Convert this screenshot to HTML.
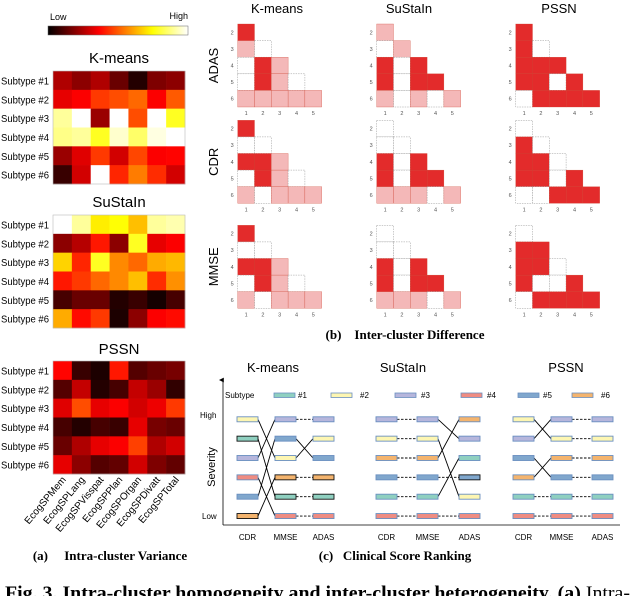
<!DOCTYPE html>
<html><head><meta charset="utf-8">
<style>
html,body{margin:0;padding:0;background:#fff;}
svg{display:block;}
text{font-family:"Liberation Sans",sans-serif;}
.serif{font-family:"Liberation Serif",serif;font-weight:bold;}
</style></head>
<body>
<svg id="fig" width="630" height="596" viewBox="0 0 630 596" xmlns="http://www.w3.org/2000/svg">
<defs>
<linearGradient id="hotgrad" x1="0" x2="1" y1="0" y2="0">
<stop offset="0" stop-color="#000"/><stop offset="0.365" stop-color="#f00"/><stop offset="0.746" stop-color="#ff0"/><stop offset="1" stop-color="#fff"/>
</linearGradient>
<marker id="arr" markerWidth="6" markerHeight="6" refX="3" refY="5" orient="auto"><path d="M0,6 L3,0 L6,6 z" fill="#000"/></marker>
</defs>
<g>
<rect x="48" y="26" width="140" height="9" fill="url(#hotgrad)" stroke="#666" stroke-width="0.5"/>
<text x="50" y="20" font-size="9">Low</text>
<text x="188" y="19" font-size="9" text-anchor="end">High</text>
</g>
<g id="pa"></g>
<g id="pb"></g>
<g id="pc"></g>
<text class="serif" x="110" y="560" font-size="13" text-anchor="middle">(a)&#160;&#160;&#160;&#160; Intra-cluster Variance</text>
<text class="serif" x="405" y="339" font-size="13" text-anchor="middle">(b)&#160;&#160;&#160; Inter-cluster Difference</text>
<text class="serif" x="395" y="560" font-size="13" text-anchor="middle">(c)&#160;&#160; Clinical Score Ranking</text>
<text class="serif" x="5" y="599" font-size="19" textLength="625" lengthAdjust="spacingAndGlyphs">Fig. 3. Intra-cluster homogeneity and inter-cluster heterogeneity. (a) <tspan font-weight="normal">Intra-</tspan></text>
</svg>
<script>
const NS="http://www.w3.org/2000/svg";
function mk(tag,attrs,parent,txt){const e=document.createElementNS(NS,tag);for(const k in attrs)e.setAttribute(k,attrs[k]);if(txt!==undefined)e.textContent=txt;parent.appendChild(e);return e;}
// ---------- Panel A data ----------
const features=["EcogSPMem","EcogSPLang","EcogSPVisspat","EcogSPPlan","EcogSPOrgan","EcogSPDivatt","EcogSPTotal"];
const subtypes=["Subtype #1","Subtype #2","Subtype #3","Subtype #4","Subtype #5","Subtype #6"];
const kmeansVar=[[0.25,0.2,0.25,0.15,0.05,0.18,0.2],[0.33,0.36,0.45,0.48,0.52,0.36,0.5],[0.9,1.0,0.22,1.0,0.48,1.0,0.78],[0.88,0.9,0.78,0.95,0.85,0.97,1.0],[0.22,0.32,0.45,0.3,0.47,0.36,0.37],[0.08,0.3,1.0,0.42,0.55,0.43,0.3]];
const sustainVar=[[1.0,0.9,0.72,0.75,0.65,0.9,0.92],[0.2,0.26,0.4,0.2,0.78,0.33,0.36],[0.68,0.42,0.78,0.57,0.52,0.62,0.64],[0.4,0.45,0.52,0.57,0.65,0.43,0.58],[0.1,0.15,0.15,0.05,0.08,0.03,0.1],[0.62,0.38,0.45,0.04,0.2,0.36,0.38]];
const pssnVar=[[0.37,0.08,0.04,0.4,0.12,0.15,0.17],[0.12,0.28,0.05,0.1,0.28,0.22,0.07],[0.32,0.48,0.33,0.36,0.3,0.34,0.45],[0.1,0.05,0.1,0.08,0.33,0.17,0.15],[0.15,0.25,0.33,0.36,0.46,0.25,0.3],[0.33,0.2,0.12,0.14,0.3,0.18,0.14]];
// ---------- Panel B data (0 none, 1 weak, 2 strong) ----------
const scoresB=["ADAS","CDR","MMSE"];
const methods=["K-means","SuStaIn","PSSN"];
const diffKmeansADAS=[[2],[1,0],[0,2,1],[0,2,1,0],[1,1,1,1,1]];
const diffKmeansCDR=[[2],[0,0],[2,2,1],[0,2,1,0],[1,0,1,1,1]];
const diffKmeansMMSE=[[2],[0,0],[2,2,1],[0,2,1,0],[1,0,1,1,1]];
const diffSustainADAS=[[1],[0,1],[2,0,2],[2,0,2,2],[1,0,1,0,1]];
const diffSustainCDR=[[0],[0,0],[2,0,2],[2,0,2,2],[1,1,1,0,1]];
const diffSustainMMSE=[[0],[0,0],[2,0,2],[2,0,2,2],[1,1,1,0,1]];
const diffPssnADAS=[[2],[2,0],[2,2,2],[2,2,0,2],[0,2,2,2,2]];
const diffPssnCDR=[[0],[2,0],[2,2,0],[2,2,0,2],[0,0,2,2,2]];
const diffPssnMMSE=[[0],[2,2],[2,2,0],[2,0,0,2],[0,2,2,2,2]];
// ---------- Panel C data (ranking high->low, subtype numbers) ----------
const scoresC=["CDR","MMSE","ADAS"];
const rankKmeansCDR=[2,1,3,4,5,6];
const rankKmeansMMSE=[3,5,2,6,1,4];
const rankKmeansADAS=[3,2,5,6,1,4];
const rankSustainCDR=[3,2,6,5,1,4];
const rankSustainMMSE=[3,2,6,5,1,4];
const rankSustainADAS=[6,3,1,5,2,4];
const rankPssnCDR=[2,3,5,6,1,4];
const rankPssnMMSE=[3,2,6,5,1,4];
const rankPssnADAS=[3,2,6,5,1,4];
const subtypeColors=["#8fd0c0","#fdf6b2","#b6b6dc","#ef8c82","#80a7cd","#f4b46e"];

function hot(v){const c=x=>Math.max(0,Math.min(1,x));const r=c(v/0.365),g=c((v-0.365)/0.381),b=c((v-0.746)/0.254);return `rgb(${Math.round(r*255)},${Math.round(g*255)},${Math.round(b*255)})`;}

// ---------- Draw Panel A ----------
const pa=document.getElementById('pa');
const heatmaps=[{name:"K-means",data:kmeansVar,top:71,ty:63},{name:"SuStaIn",data:sustainVar,top:215,ty:207},{name:"PSSN",data:pssnVar,top:361,ty:354}];
const hx0=53,hx1=185;
heatmaps.forEach((h,hi)=>{
  const g=mk('g',{},pa);
  
  
  const tt=mk('text',{x:(hx0+hx1)/2,y:h.ty,'font-size':15,'text-anchor':'middle'},g,h.name);
  
  
  const cw=(hx1-hx0)/features.length, ch=113/subtypes.length;
  h.data.forEach((row,ri)=>{
    row.forEach((v,ci)=>{
      const r=mk('rect',{x:hx0+ci*cw,y:h.top+ri*ch,width:cw+0.3,height:ch+0.3,fill:hot(v)},g);
      
      
    });
    const lb=mk('text',{x:1,y:h.top+(ri+0.5)*ch+4,'font-size':10.5,textLength:48,lengthAdjust:'spacingAndGlyphs'},g,subtypes[ri]);
    
    
  });
  mk('rect',{x:hx0,y:h.top,width:hx1-hx0,height:113,fill:'none',stroke:'#bbb','stroke-width':0.6},g);
  if(hi===2){
    features.forEach((f,ci)=>{
      const cx=hx0+(ci+0.5)*cw, cy=h.top+113+6;
      const t=mk('text',{x:cx+4,y:cy,'font-size':10,'text-anchor':'end',transform:`rotate(-50 ${cx+4} ${cy})`},g,f);
      
      
    });
  }
});

// ---------- Draw Panel B ----------
const pb=document.getElementById('pb');
const diffGrid=[[diffKmeansADAS,diffSustainADAS,diffPssnADAS],[diffKmeansCDR,diffSustainCDR,diffPssnCDR],[diffKmeansMMSE,diffSustainMMSE,diffPssnMMSE]];
const gx=[237.7,376.7,515.7], gy=[24,120.3,225.3], gcw=16.8, gch=16.6;
const titleX=[277,409,559];
methods.forEach((m,mi)=>{const t=mk('text',{x:titleX[mi],y:13,'font-size':13,'text-anchor':'middle'},pb,m);
  
  });
scoresB.forEach((s,si)=>{
  const cy=gy[si]+2.5*gch;
  const t=mk('text',{x:218,y:cy,'font-size':13,'text-anchor':'middle',transform:`rotate(-90 218 ${cy})`},pb,s);
  
  
  methods.forEach((m,mi)=>{
    const g=mk('g',{},pb);
    
    
    const x0=gx[mi],y0=gy[si];
    diffGrid[si][mi].forEach((row,ri)=>{
      row.forEach((v,ci)=>{
        const fill=v===2?'#e32b2b':v===1?'#f4b8b8':'#fff';
        const r=mk('rect',{x:x0+ci*gcw,y:y0+ri*gch,width:gcw,height:gch,fill:fill,stroke:v===0?'#999':'#c43',
          'stroke-width':v===0?0.5:0.3,'stroke-dasharray':v===0?'1.5,1':'none'},g);
        
        
      });
      mk('text',{x:x0-4,y:y0+(ri+0.5)*gch+2,'font-size':5.5,fill:'#555','text-anchor':'end'},g,String(ri+2));
    });
    for(let c=0;c<5;c++) mk('text',{x:x0+(c+0.5)*gcw,y:y0+5*gch+8,'font-size':5.5,fill:'#555','text-anchor':'middle'},g,String(c+1));
  });
});

// ---------- Draw Panel C ----------
const pc=document.getElementById('pc');
const ranks=[[rankKmeansCDR,rankKmeansMMSE,rankKmeansADAS],[rankSustainCDR,rankSustainMMSE,rankSustainADAS],[rankPssnCDR,rankPssnMMSE,rankPssnADAS]];
const barX=[[237,275,313],[376,417,459],[513,551,592]], barW=21, barH=5;
const rowY0=419.3, rowDy=19.35;
const ctitleX=[273,403,566];
methods.forEach((m,mi)=>{const t=mk('text',{x:ctitleX[mi],y:372,'font-size':13,'text-anchor':'middle'},pc,m);
  
  });
const lg=mk('g',{},pc);


mk('text',{x:225,y:398,'font-size':8},lg,'Subtype');
const legX=[274,331,395,461,518,572], legLX=[298,360,421,487,543,601];
subtypeColors.forEach((c,i)=>{
  const r=mk('rect',{x:legX[i],y:393,width:21,height:4.5,fill:c,stroke:'#6a8fc0','stroke-width':0.8},lg);
  
  
  const t=mk('text',{x:legLX[i],y:398,'font-size':8},lg,'#'+(i+1));
  
  
});
const ax=mk('g',{},pc);


mk('line',{x1:223,y1:525,x2:223,y2:380,stroke:'#000','stroke-width':0.8,'marker-end':'url(#arr)'},ax);
mk('line',{x1:223,y1:525,x2:620,y2:525,stroke:'#000','stroke-width':0.8},ax);
mk('text',{x:200,y:418,'font-size':8},ax,'High');
mk('text',{x:202,y:519,'font-size':8},ax,'Low');
mk('text',{x:215,y:467,'font-size':11,'text-anchor':'middle',transform:'rotate(-90 215 467)'},ax,'Severity');
ranks.forEach((mr,mi)=>{
  const g=mk('g',{},pc);
  
  
  for(let k=0;k<2;k++){
    mr[k].forEach((st,ri)=>{
      const rj=mr[k+1].indexOf(st);
      const y1=rowY0+ri*rowDy, y2=rowY0+rj*rowDy;
      const l=mk('line',{x1:barX[mi][k]+barW,y1:y1,x2:barX[mi][k+1],y2:y2,stroke:'#000','stroke-width':0.9,'stroke-dasharray':ri===rj?'2.5,1.5':'none'},g);
      
      
    });
  }
  mr.forEach((col,k)=>{
    col.forEach((st,ri)=>{
      const bb=(mi===0&&(st===1||st===6))||(mi===1&&k===2&&st===5);
      const r=mk('rect',{x:barX[mi][k],y:rowY0+ri*rowDy-barH/2,width:barW,height:barH,fill:subtypeColors[st-1],stroke:bb?'#111':'#6a8fc0','stroke-width':0.9},g);
      
      
    });
    const t=mk('text',{x:barX[mi][k]+barW/2,y:540,'font-size':8,'text-anchor':'middle'},g,scoresC[k]);
    
    
  });
});
</script>
</body></html>
